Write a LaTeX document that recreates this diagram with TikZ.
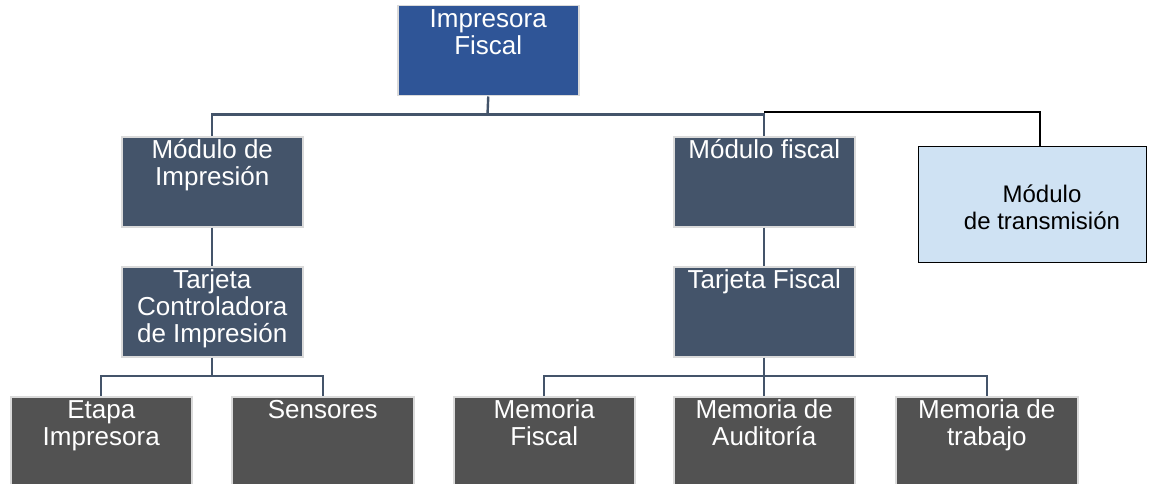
\documentclass[tikz,border=0pt]{standalone}
\usepackage{fontspec}
\setmainfont{Liberation Sans}
\definecolor{rootblue}{HTML}{2F5597}
\definecolor{slate}{HTML}{44546A}
\definecolor{darkbox}{HTML}{525252}
\definecolor{lightbox}{HTML}{CFE2F3}
\definecolor{rim}{HTML}{DADADA}
\tikzset{
  boxbase/.style={rectangle, inner sep=0pt, anchor=north west, minimum width=181pt, minimum height=90pt, draw=rim, line width=1.5pt},
  rootbox/.style={boxbase, fill=rootblue},
  midbox/.style={boxbase, fill=slate},
  lowbox/.style={boxbase, fill=darkbox, minimum height=100pt},
  litebox/.style={rectangle, inner sep=0pt, anchor=north west, minimum width=228pt, minimum height=116pt, draw=black, line width=1.3pt, fill=lightbox},
  wtxt/.style={anchor=north, inner sep=0pt, align=center, text=white, font=\fontsize{26pt}{27pt}\selectfont},
  btxt/.style={anchor=north, inner sep=0pt, align=center, text=black, font=\fontsize{24pt}{27pt}\selectfont},
  conn/.style={draw=slate, line width=2.4pt},
  bconn/.style={draw=black, line width=2pt},
}
\newcommand{\fl}{\rule{0pt}{22pt}}
\begin{document}
\begin{tikzpicture}[x=1pt,y=-1pt]
\useasboundingbox (0,0) rectangle (1150,484);
\clip (0,0) rectangle (1150,484);
\fill[white] (0,0) rectangle (1150,484);
% boxes
\node[rootbox] (root) at (397,5) {};
\node[midbox] (mi) at (121,136) {};
\node[midbox] (mf) at (673,136) {};
\node[litebox] (mt) at (918,146) {};
\node[midbox] (tc) at (121,266) {};
\node[midbox] (tf) at (673,266) {};
\node[lowbox] (et) at (10,396) {};
\node[lowbox, minimum width=182pt] (se) at (231,396) {};
\node[lowbox] (mfi) at (453,396) {};
\node[lowbox] (mau) at (673,396) {};
\node[lowbox, minimum width=182pt] (mtr) at (895,396) {};
% texts
\node[wtxt] (troot) at (root.north) {\fl Impresora\\Fiscal};
\node[wtxt] (tmi) at (mi.north) {\fl Módulo de\\Impresión};
\node[wtxt] (tmf) at (mf.north) {\fl Módulo fiscal};
\node[btxt] (tmt) at (1042,180) {\fl Módulo\\de transmisión};
\node[wtxt] (ttc) at (tc.north) {\fl Tarjeta\\Controladora\\de Impresión};
\node[wtxt] (ttf) at (tf.north) {\fl Tarjeta Fiscal};
\node[wtxt] (tet) at (et.north) {\fl Etapa\\Impresora};
\node[wtxt] (tse) at (se.north) {\fl Sensores};
\node[wtxt] (tmfi) at (mfi.north) {\fl Memoria\\Fiscal};
\node[wtxt] (tmau) at (mau.north) {\fl Memoria de\\Auditoría};
\node[wtxt] (tmtr) at (mtr.north) {\fl Memoria de\\trabajo};
% connectors
\coordinate (busa) at (487.5,114.5);
\coordinate (busb) at (0,112.5);
\coordinate (busc) at (0,376);
\draw[conn] (root.south) -- (busa);
\draw[conn] (mi.north) |- (mf.north |- busa) -- (mf.north);
\draw[bconn] (mf.north |- busb) -| ([xshift=7pt]mt.north);
\draw[conn] (mi.south) -- (tc.north);
\draw[conn] (mf.south) -- (tf.north);
\draw[conn] (tc.south) -- (tc.south |- busc);
\draw[conn] (et.north) |- (se.north |- busc) -- (se.north);
\draw[conn] (tf.south) -- (mau.north);
\draw[conn] (mfi.north) |- (mtr.north |- busc) -- (mtr.north);
\end{tikzpicture}
\end{document}
